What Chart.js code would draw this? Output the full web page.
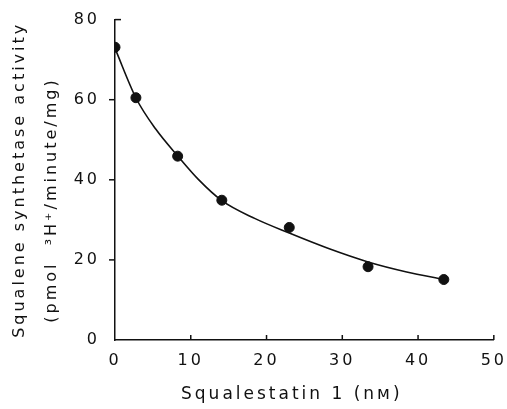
<!DOCTYPE html>
<html>
<head>
<meta charset="utf-8">
<script src="https://cdn.jsdelivr.net/npm/chart.js@4.4.1/dist/chart.umd.min.js"></script>
<style>
  html, body { margin: 0; padding: 0; background: #fff; }
  #wrap { width: 507px; height: 409px; }
</style>
</head>
<body>
<div id="wrap"><canvas id="chart" width="507" height="409"></canvas></div>
<script>
// measured points
const doseNm = [0, 2.76, 8.27, 14.1, 23.0, 33.4, 43.4];
const activity = [73.1, 60.5, 45.9, 34.9, 28.1, 18.3, 15.1];

// fitted curve
const curveX = [0, 2.8, 5.4, 8.3, 11.0, 14.1, 18.5, 23.0, 28.1, 33.4, 38.5, 43.4];
const curveY = [72.8, 60.3, 52.6, 45.9, 40.1, 34.8, 30.3, 26.7, 22.9, 19.5, 17.0, 15.1];

const xTicks = [0, 10, 20, 30, 40, 50];
const yTicks = [0, 20, 40, 60, 80];

const ink = '#111';
const fontFamily = '"DejaVu Sans", sans-serif';

Chart.defaults.font.family = fontFamily;
Chart.defaults.color = ink;

const spacing = {
  id: 'spacing',
  beforeUpdate(chart) { chart.ctx.letterSpacing = '3px'; },
  beforeDraw(chart) { chart.ctx.letterSpacing = '3px'; },
};

// tick marks: x ones point up into the plot, y ones point out (80 points in)
const tickMarks = {
  id: 'tickMarks',
  afterDraw(chart) {
    const { x, y } = chart.scales;
    const { left, bottom } = chart.chartArea;
    const ctx = chart.ctx;
    ctx.save();
    ctx.strokeStyle = ink;
    ctx.lineWidth = 1.5;
    xTicks.slice(1).forEach((v) => {
      const px = x.getPixelForValue(v);
      ctx.beginPath();
      ctx.moveTo(px, bottom);
      ctx.lineTo(px, bottom - 5);
      ctx.stroke();
    });
    yTicks.slice(1).forEach((v) => {
      const py = y.getPixelForValue(v);
      const dir = v === 80 ? 1 : -1;
      ctx.beginPath();
      ctx.moveTo(left, py);
      ctx.lineTo(left + dir * 6, py);
      ctx.stroke();
    });
    ctx.restore();
  },
};

new Chart(document.getElementById('chart'), {
  type: 'scatter',
  data: {
    datasets: [
      {
        data: doseNm.map((x, i) => ({ x, y: activity[i] })),
        backgroundColor: ink,
        borderColor: ink,
        pointRadius: 5,
        pointHoverRadius: 5,
        showLine: false,
        order: 0,
      },
      {
        data: curveX.map((x, i) => ({ x, y: curveY[i] })),
        borderColor: ink,
        borderWidth: 1.6,
        pointRadius: 0,
        showLine: true,
        fill: false,
        cubicInterpolationMode: 'monotone',
        order: 1,
      },
    ],
  },
  options: {
    responsive: false,
    animation: false,
    devicePixelRatio: 1,
    layout: { padding: { top: 19, right: 0, left: 0, bottom: 0 } },
    plugins: { legend: { display: false }, tooltip: { enabled: false } },
    scales: {
      x: {
        type: 'linear',
        min: 0,
        max: 50,
        afterBuildTicks: (s) => { s.ticks = xTicks.map((v) => ({ value: v })); },
        afterFit: (s) => { s.height = 69; },
        grid: { display: true, drawOnChartArea: false, drawTicks: true, tickLength: 11, color: 'transparent' },
        border: { display: true, color: ink, width: 1.5 },
        ticks: { padding: 0, font: { size: 16 }, color: ink, maxRotation: 0 },
        title: {
          display: true,
          text: 'Squalestatin 1 (nм)   ',
          font: { size: 17 },
          color: ink,
          padding: { top: 0, bottom: 4 },
        },
      },
      y: {
        min: 0,
        max: 80,
        afterBuildTicks: (s) => { s.ticks = yTicks.map((v) => ({ value: v })); },
        afterFit: (s) => { s.width = 115; },
        grid: { display: true, drawOnChartArea: false, drawTicks: true, tickLength: 5, color: 'transparent' },
        border: { display: true, color: ink, width: 1.5 },
        ticks: { padding: 10, font: { size: 16 }, color: ink },
        title: {
          display: true,
          text: ['Squalene synthetase activity', '(pmol  ³H⁺/minute/mg)     '],
          font: { size: 16, lineHeight: 2 },
          color: ink,
          padding: { top: 4, bottom: 0 },
        },
      },
    },
  },
  plugins: [spacing, tickMarks],
});
</script>
</body>
</html>
